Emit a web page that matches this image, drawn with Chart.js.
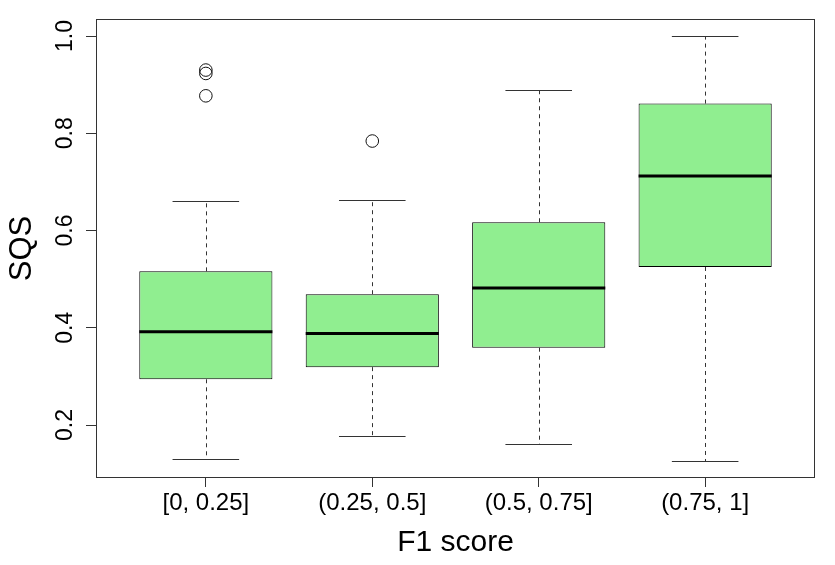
<!DOCTYPE html>
<html>
<head>
<meta charset="utf-8">
<script src="https://cdn.jsdelivr.net/npm/chart.js@4/dist/chart.umd.min.js"></script>
<style>
html,body{margin:0;padding:0;background:#fff;}
#wrap{width:835px;height:565px;position:relative;}
</style>
</head>
<body>
<div id="wrap"><canvas id="c"></canvas></div>
<script>
// ---- data ----
const categories = ["[0, 0.25]", "(0.25, 0.5]", "(0.5, 0.75]", "(0.75, 1]"];
const positions  = [1, 2, 3, 4];
const whiskerLow  = [0.131, 0.177, 0.160, 0.125];
const q1          = [0.294, 0.319, 0.359, 0.525];
const median      = [0.392, 0.388, 0.482, 0.712];
const q3          = [0.516, 0.469, 0.617, 0.861];
const whiskerHigh = [0.660, 0.663, 0.888, 1.000];
const outlierGroup = [1, 1, 1, 2];
const outlierValue = [0.930, 0.923, 0.877, 0.784];
const yTicks = [0.2, 0.4, 0.6, 0.8, 1.0];
const yTickLabels = ["0.2", "0.4", "0.6", "0.8", "1.0"];

const FONT = "'Liberation Sans', Arial, Helvetica, sans-serif";

const boxPlugin = {
  id: 'boxExtras',
  afterDatasetsDraw(chart) {
    const ctx = chart.ctx;
    const xs = chart.scales.x, ys = chart.scales.y;
    const meta = chart.getDatasetMeta(0);
    ctx.save();
    for (let i = 0; i < positions.length; i++) {
      const bar = meta.data[i];
      const xc = xs.getPixelForValue(positions[i]);
      const half = bar.width / 2;
      const cap = half / 2;
      // whiskers (dashed)
      ctx.strokeStyle = '#333';
      ctx.lineWidth = 1;
      ctx.setLineDash([4, 4]);
      ctx.beginPath();
      ctx.moveTo(Math.round(xc) + 0.5, ys.getPixelForValue(q3[i]));
      ctx.lineTo(Math.round(xc) + 0.5, ys.getPixelForValue(whiskerHigh[i]));
      ctx.moveTo(Math.round(xc) + 0.5, ys.getPixelForValue(q1[i]));
      ctx.lineTo(Math.round(xc) + 0.5, ys.getPixelForValue(whiskerLow[i]));
      ctx.stroke();
      ctx.setLineDash([]);
      // caps
      ctx.beginPath();
      const yh = Math.round(ys.getPixelForValue(whiskerHigh[i])) + 0.5;
      const yl = Math.round(ys.getPixelForValue(whiskerLow[i])) + 0.5;
      ctx.moveTo(xc - cap, yh); ctx.lineTo(xc + cap, yh);
      ctx.moveTo(xc - cap, yl); ctx.lineTo(xc + cap, yl);
      ctx.stroke();
      // median
      ctx.strokeStyle = '#000';
      ctx.lineWidth = 3;
      ctx.beginPath();
      const ym = ys.getPixelForValue(median[i]);
      ctx.moveTo(xc - half, ym); ctx.lineTo(xc + half, ym);
      ctx.stroke();
    }
    ctx.restore();
  },
  afterDraw(chart) {
    const ctx = chart.ctx;
    const a = chart.chartArea;
    const ys = chart.scales.y;
    ctx.save();
    // frame
    ctx.strokeStyle = '#333';
    ctx.lineWidth = 1;
    ctx.strokeRect(Math.round(a.left) + 0.5, Math.round(a.top) + 0.5, Math.round(a.right - a.left) - 1, Math.round(a.bottom - a.top) - 1);
    // rotated y tick labels
    ctx.fillStyle = '#000';
    ctx.font = "23px " + FONT;
    ctx.textAlign = 'center';
    ctx.textBaseline = 'alphabetic';
    for (let i = 0; i < yTicks.length; i++) {
      const y = ys.getPixelForValue(yTicks[i]);
      ctx.save();
      ctx.translate(72, y);
      ctx.rotate(-Math.PI / 2);
      ctx.fillText(yTickLabels[i], 0, 0);
      ctx.restore();
    }
    ctx.restore();
  }
};

new Chart(document.getElementById('c'), {
  type: 'bar',
  data: {
    datasets: [
      {
        type: 'bar',
        data: positions.map((p, i) => ({ x: p, y: [q1[i], q3[i]] })),
        backgroundColor: '#90EE90',
        borderColor: '#000',
        borderWidth: 1,
        borderSkipped: false,
        barPercentage: 0.8,
        categoryPercentage: 1.0
      },
      {
        type: 'scatter',
        data: outlierValue.map((v, i) => ({ x: outlierGroup[i], y: v })),
        pointStyle: 'circle',
        pointRadius: 6.3,
        pointBackgroundColor: 'rgba(0,0,0,0)',
        pointBorderColor: '#111',
        pointBorderWidth: 1
      }
    ]
  },
  options: {
    responsive: true,
    maintainAspectRatio: false,
    animation: false,
    events: [],
    layout: { padding: { left: 0, top: 19, right: 20, bottom: 0 } },
    plugins: { legend: { display: false }, tooltip: { enabled: false }, title: { display: false } },
    scales: {
      x: {
        type: 'linear',
        offset: false,
        min: 0.34,
        max: 4.66,
        afterBuildTicks: (s) => { s.ticks = positions.map(v => ({ value: v })); },
        afterFit: (s) => { s.height = 87; },
        grid: { offset: false, drawOnChartArea: false, drawTicks: true, tickLength: 9, color: '#333', tickWidth: 1 },
        border: { display: false },
        ticks: {
          autoSkip: false,
          maxRotation: 0,
          minRotation: 0,
          padding: 2,
          color: '#000',
          font: { family: FONT, size: 24 },
          callback: (v) => categories[positions.indexOf(v)]
        },
        title: {
          display: true,
          text: 'F1 score',
          color: '#000',
          font: { family: FONT, size: 30 },
          padding: { top: 0, bottom: 4 }
        }
      },
      y: {
        type: 'linear',
        min: 0.091,
        max: 1.035,
        afterBuildTicks: (s) => { s.ticks = yTicks.map(v => ({ value: v })); },
        afterFit: (s) => { s.width = 96; },
        grid: { drawOnChartArea: false, drawTicks: true, tickLength: 10, color: '#333', tickWidth: 1 },
        border: { display: false },
        ticks: { display: false },
        title: {
          display: true,
          text: 'SQS',
          color: '#000',
          font: { family: FONT, size: 31 },
          padding: { top: 4, bottom: 0 }
        }
      }
    }
  },
  plugins: [boxPlugin]
});
</script>
</body>
</html>
